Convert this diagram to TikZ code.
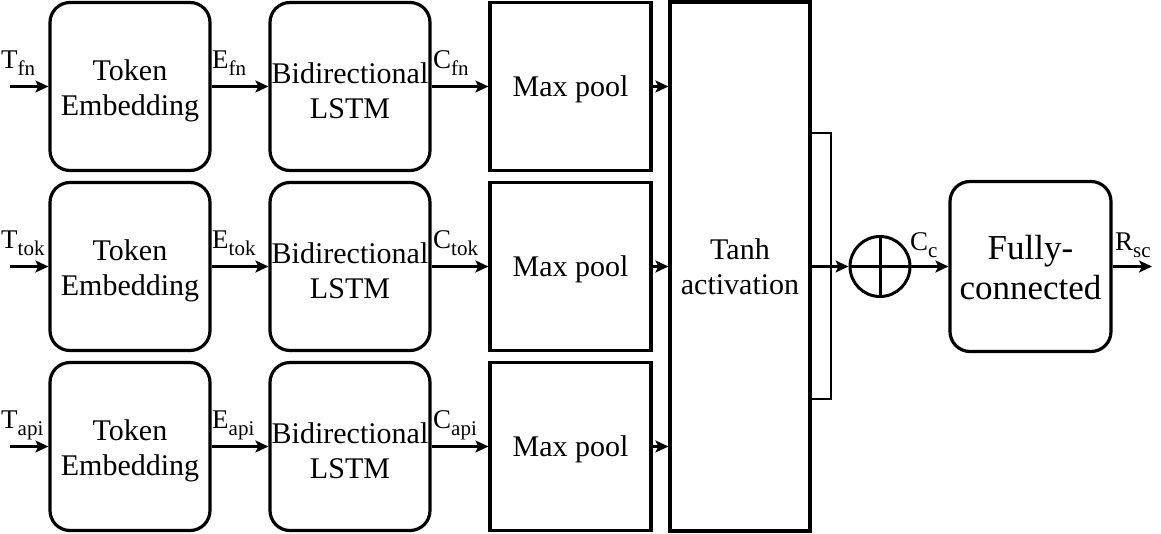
\documentclass[tikz,border=0pt]{standalone}
\usepackage{fontspec}
\setmainfont{Liberation Serif}
\newfontfamily\tnr{Liberation Serif}
\usetikzlibrary{arrows.meta}
\newcommand{\lsub}[2]{#1\raisebox{-7pt}{\fontsize{21}{21}\selectfont #2}}
\tikzset{
 rbox/.style={draw, line width=3.2pt, rounded corners=20pt, minimum width=160pt, minimum height=168pt, inner sep=0pt},
 sbox/.style={draw, line width=3.2pt, minimum width=161pt, minimum height=168pt, inner sep=0pt, align=center, font=\tnr\fontsize{30}{35}\selectfont},
 txt/.style={inner sep=0pt, align=center, font=\tnr\fontsize{30}{35}\selectfont},
 conn/.style={line width=2.2pt, -{Stealth[length=13pt,width=12pt,inset=3pt]}},
 lbl/.style={anchor=base west, inner sep=0pt, font=\tnr\fontsize{27}{27}\selectfont},
}
\begin{document}
\begin{tikzpicture}[x=1pt,y=-1pt]
\useasboundingbox (0,0) rectangle (1161,533);
\node[sbox, minimum width=140pt, minimum height=529pt] (th) at (740,266.5) {Tanh\\activation};
\foreach \r/\y/\s in {1/86.5/fn, 2/266.5/tok, 3/446.5/api}{
  \node[rbox] (te\r) at (130,\y) {};
  \node[txt] (tet\r) at ([yshift=-4pt]te\r.center) {Token\\Embedding};
  \node[rbox] (ls\r) at (350,\y) {};
  \node[txt] (lst\r) at ([yshift=-4pt]ls\r.center) {Bidirectional\\LSTM};
  \node[sbox] (mp\r) at (570.5,\y) {};
  \node[txt] (mpt\r) at ([yshift=-3pt]mp\r.center) {Max pool};
  \coordinate (in\r) at (10,\y);
  \draw[conn] (in\r) -- (te\r);
  \draw[conn] (te\r) -- (ls\r);
  \draw[conn] (ls\r) -- (mp\r);
  \draw[conn] (mp\r.east) -- (th.west |- mp\r);
  \node[lbl] (tl\r) at (1,\y-18.5) {\lsub{T}{\s}};
  \node[lbl] (el\r) at (212,\y-18.5) {\lsub{E}{\s}};
  \node[lbl] (cl\r) at (433,\y-18.5) {\lsub{C}{\s}};
}
\coordinate (bt) at (831,133);
\coordinate (bb) at (831,399);
\draw[line width=1.8pt] (th.east |- bt) -- (bt) -- (bb) -- (th.east |- bb);
\node[circle, draw, line width=3pt, minimum size=60pt, inner sep=0pt] (sum) at (880,266.5) {};
\draw[line width=3pt] (sum.north) -- (sum.south) (sum.west) -- (sum.east);
\draw[conn] (th.east) -- (sum.west);
\node[rbox, minimum width=161pt, minimum height=170pt] (fc) at (1030.5,266.5) {};
\node[txt, font=\tnr\fontsize{35}{40}\selectfont] (fct) at ([yshift=-1pt]fc.center) {Fully-\\connected};
\draw[conn] (sum.east) -- (fc.west);
\coordinate (out) at (1152,266.5);
\draw[conn] (fc.east) -- (out);
\node[lbl] (ccl) at (910,250) {\lsub{C}{c}};
\node[lbl] (rsl) at (1115,250) {\lsub{R}{sc}};
\end{tikzpicture}
\end{document}
